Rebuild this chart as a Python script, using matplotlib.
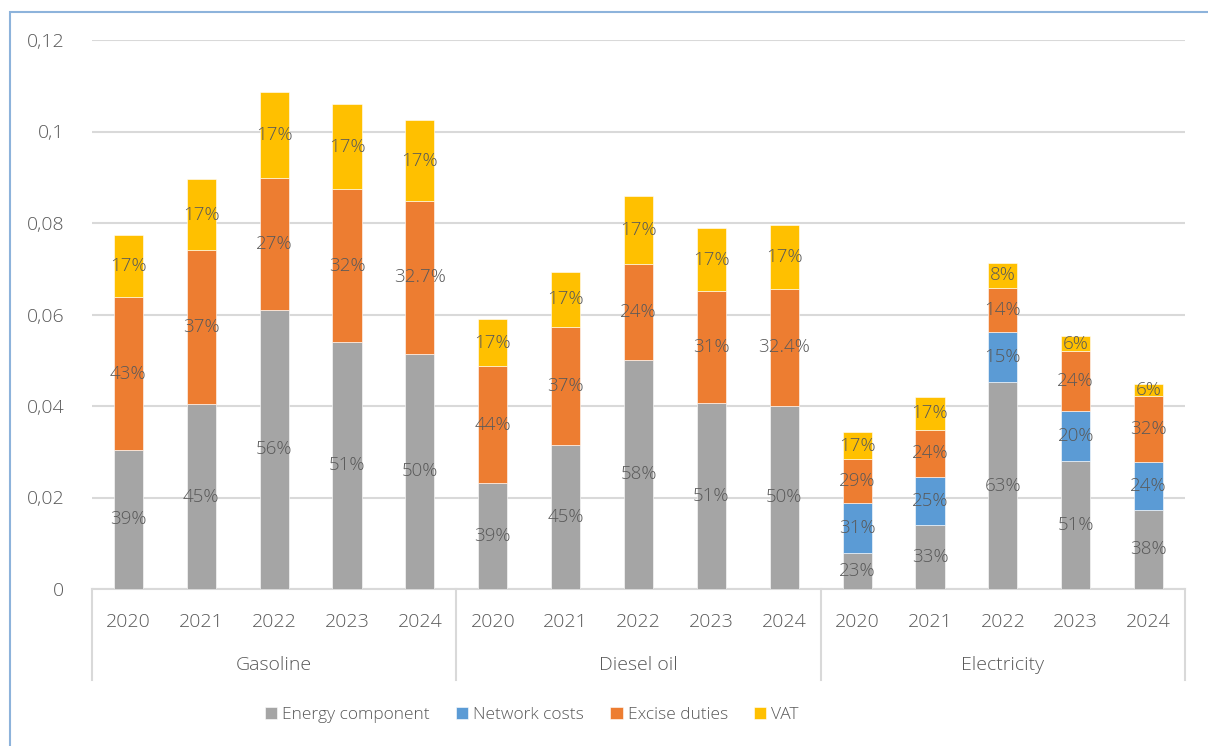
import numpy as np
import matplotlib.pyplot as plt
from matplotlib.patches import Rectangle
from matplotlib.transforms import blended_transform_factory

plt.rcParams['font.family'] = ['Open Sans', 'DejaVu Sans']
plt.rcParams['font.weight'] = 'light'

groups = ["Gasoline", "Diesel oil", "Electricity"]
years = ["2020", "2021", "2022", "2023", "2024"]
series = ["Energy component", "Network costs", "Excise duties", "VAT"]
colors = ["#A5A5A5", "#5B9BD5", "#ED7D31", "#FFC000"]

energy = [0.0304, 0.0404, 0.0610, 0.0540, 0.0514,
          0.0232, 0.0315, 0.0501, 0.0407, 0.0400,
          0.0079, 0.0140, 0.0452, 0.0280, 0.0173]
network = [0, 0, 0, 0, 0,
           0, 0, 0, 0, 0,
           0.0109, 0.0105, 0.0110, 0.0109, 0.0105]
excise = [0.0334, 0.0337, 0.0288, 0.0334, 0.0334,
          0.0255, 0.0258, 0.0209, 0.0244, 0.0256,
          0.0096, 0.0103, 0.0096, 0.0131, 0.0144]
vat = [0.0136, 0.0155, 0.0188, 0.0186, 0.0177,
       0.0103, 0.0120, 0.0149, 0.0138, 0.0140,
       0.0059, 0.0072, 0.0055, 0.0033, 0.0026]

energy_lbl = ["39%", "45%", "56%", "51%", "50%",
              "39%", "45%", "58%", "51%", "50%",
              "23%", "33%", "63%", "51%", "38%"]
network_lbl = [None] * 10 + ["31%", "25%", "15%", "20%", "24%"]
excise_lbl = ["43%", "37%", "27%", "32%", "32.7%",
              "44%", "37%", "24%", "31%", "32.4%",
              "29%", "24%", "14%", "24%", "32%"]
vat_lbl = ["17%"] * 10 + ["17%", "17%", "8%", "6%", "6%"]

yticks = [0, 0.02, 0.04, 0.06, 0.08, 0.1, 0.12]
ytick_lbl = ["0", "0,02", "0,04", "0,06", "0,08", "0,1", "0,12"]

txt = "#595959"
fig = plt.figure(figsize=(12.08, 7.46), dpi=100)
ax = fig.add_axes([92 / 1208, 1 - 589 / 746, (1185 - 92) / 1208, 549 / 746])

x = np.arange(len(energy))
bottom = np.zeros(len(x))
for vals, lbls, name, col in zip([energy, network, excise, vat],
                                 [energy_lbl, network_lbl, excise_lbl, vat_lbl],
                                 series, colors):
    vals = np.array(vals)
    ax.bar(x, vals, 0.4, bottom=bottom, color=col, label=name,
           edgecolor="white", linewidth=0.4, zorder=3)
    for xi, v, b, l in zip(x, vals, bottom, lbls):
        if l is not None:
            ax.text(xi, b + v / 2, l, ha="center", va="center",
                    fontsize=13.5, color=txt, zorder=4)
    bottom += vals

ax.set_xlim(-0.5, len(x) - 0.5)
ax.set_ylim(0, 0.12)
ax.set_yticks(yticks)
ax.set_yticklabels(ytick_lbl, fontsize=14, color=txt)
ax.tick_params(axis="y", length=0, pad=20)
ax.set_xticks([])
ax.grid(axis="y", color="#D9D9D9", linewidth=1.5, zorder=0)
for s in ["top", "right", "left"]:
    ax.spines[s].set_visible(False)
ax.spines["bottom"].set_color("#D9D9D9")
ax.spines["bottom"].set_linewidth(1.5)

tr = blended_transform_factory(ax.transData, ax.transAxes)
for i, xi in enumerate(x):
    ax.text(xi, -0.06, years[i % 5], ha="center", va="center",
            fontsize=14, color=txt, transform=tr)
for g, name in enumerate(groups):
    ax.text(g * 5 + 2, -0.138, name, ha="center", va="center",
            fontsize=14, color=txt, transform=tr)
for sep in np.arange(len(groups) + 1) * 5 - 0.5:
    ax.plot([sep, sep], [0, -0.166], color="#D9D9D9", linewidth=1.5,
            transform=tr, clip_on=False)

fig.legend(loc="center", bbox_to_anchor=(532 / 1208, 1 - 715 / 746), ncol=4,
           frameon=False, fontsize=12.5, handlelength=0.7, handleheight=0.7,
           handletextpad=0.3, columnspacing=1.5, labelcolor=txt)

fig.patches.append(Rectangle((10 / 1208, -0.05), 1.1, 1.05 - 12 / 746,
                             transform=fig.transFigure, fill=False,
                             edgecolor="#8DB3DB", linewidth=1.5))

fig.savefig("out.png", dpi=100)
